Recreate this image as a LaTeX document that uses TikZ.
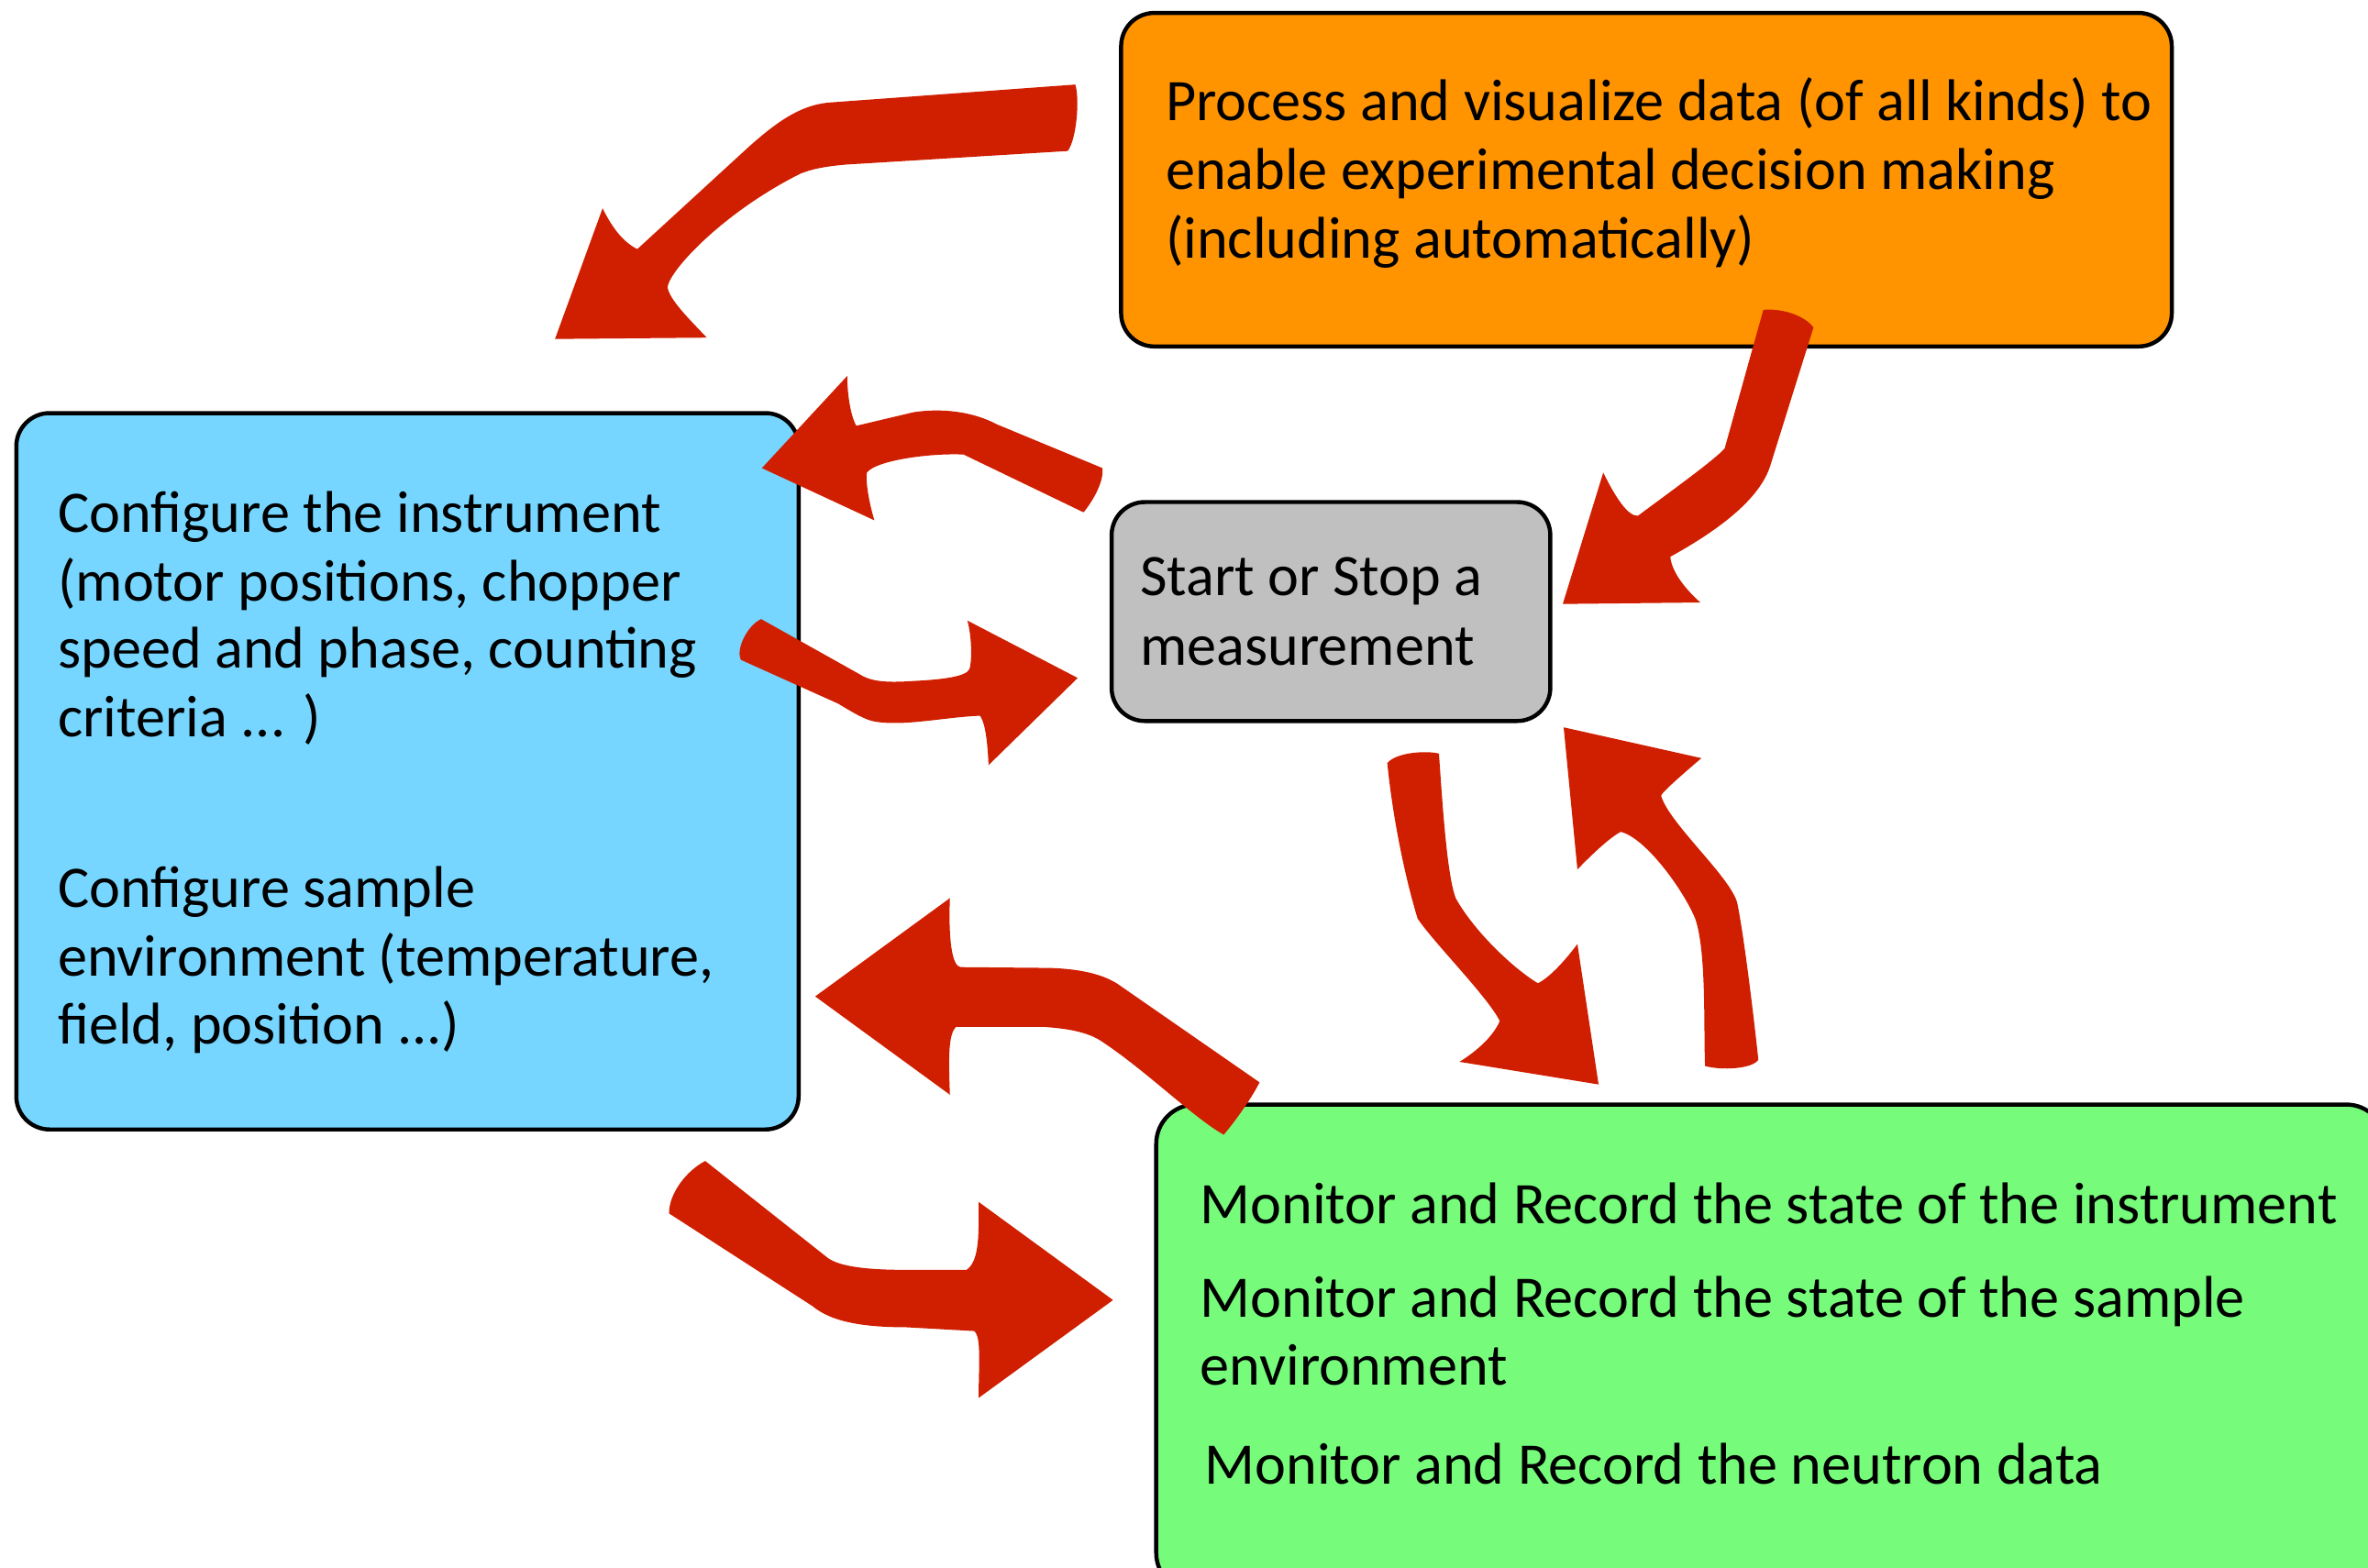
\documentclass[tikz,border=0pt]{standalone}
\usepackage{fontspec}
\setmainfont{Carlito}
\definecolor{procF}{RGB}{255,148,0}
\definecolor{confF}{RGB}{118,214,255}
\definecolor{startF}{RGB}{192,192,192}
\definecolor{monF}{RGB}{118,251,123}
\definecolor{arrowred}{RGB}{208,31,0}
\tikzset{
  box/.style={draw=black, line width=2.7pt, rounded corners=22pt, inner sep=0pt},
  bigarrow/.style={fill=arrowred, draw=none},
  txt/.style={anchor=base west, inner sep=0pt, font=\fontsize{39}{45}\selectfont}
}
\begin{document}
\begin{tikzpicture}[x=1pt,y=-1pt]
\useasboundingbox (0,0) rectangle (1568,1038);
\clip (0,0) rectangle (1568,1038);
\fill[white] (0,0) rectangle (1568,1038);
% boxes
\node[box, fill=procF, minimum width=695.7pt, minimum height=220.9pt] (proc) at (1090.2,119) {};
\node[box, fill=confF, minimum width=518pt, minimum height=474.4pt] (conf) at (269.8,510.8) {};
\node[box, fill=startF, minimum width=290.5pt, minimum height=145pt] (start) at (881.3,405) {};
\node[box, fill=monF, minimum width=814pt, minimum height=323pt, rounded corners=26pt] (mon) at (1172.6,893) {};
% texts
\node[txt] (p1) at (771.7,80) {Process and visualize data (of all kinds) to};
\node[txt] (p2) at (771.7,125.5) {enable experimental decision making};
\node[txt] (p3) at (771.7,171) {(including automatically)};
\node[txt] (c1) at (38.2,352.4) {Configure the instrument};
\node[txt] (c2) at (38.2,397.8) {(motor positions, chopper};
\node[txt] (c3) at (38.2,442.7) {speed and phase, counting};
\node[txt] (c4) at (38.2,488) {criteria ... )};
\node[txt] (c5) at (38.2,601.2) {Configure sample};
\node[txt] (c6) at (38.2,646.2) {environment (temperature,};
\node[txt] (c7) at (38.2,691.5) {field, position ...)};
\node[txt] (s1) at (754.8,394.7) {Start or Stop a};
\node[txt] (s2) at (754.8,440.3) {measurement};
\node[txt] (m1) at (794.5,810.7) {Monitor and Record the state of the instrument};
\node[txt] (m2) at (794.5,872.4) {Monitor and Record the state of the sample};
\node[txt] (m3) at (794.5,917) {environment};
\node[txt] (m4) at (797.5,982.8) {Monitor and Record the neutron data};
% arrow 1: process -> configure
\fill[bigarrow] (712,56) -- (548,68) .. controls (530,70) and (515,80) .. (495,98) -- (422,165)
  .. controls (412,160) and (405,150) .. (399,138) -- (367.5,224.5) -- (468,223.6)
  .. controls (455,210) and (443,198) .. (442,190)
  .. controls (444,178) and (480,140) .. (530,115) .. controls (540,111) and (550,110) .. (560,109)
  -- (707,100) .. controls (713,92) and (715,65) .. (712,56) -- cycle;
% arrow 2: start -> configure (top)
\fill[bigarrow] (730,310) -- (660,281) .. controls (645,273) and (625,270) .. (605,273) -- (567,282)
  .. controls (563,275) and (561,260) .. (561,249) -- (504.5,310) -- (579,344.6)
  .. controls (576,335) and (573,320) .. (574,313)
  .. controls (580,305) and (615,300) .. (638,301) -- (717.5,339.3)
  .. controls (725,330) and (731,318) .. (730,310) -- cycle;
% arrow 3: configure -> start
\fill[bigarrow] (504,410) -- (570,447) .. controls (578,452) and (590,452) .. (605,451)
  .. controls (625,450) and (640,448) .. (642,443)
  .. controls (644,435) and (643,420) .. (640.6,411) -- (713.6,449) -- (654.6,506.7)
  .. controls (654,495) and (653,480) .. (649,474)
  .. controls (625,475) and (600,481) .. (580,478) .. controls (573,477) and (565,472) .. (555,466)
  -- (490.6,437) .. controls (487,430) and (495,414) .. (504,410) -- cycle;
% arrow 4: process -> start
\fill[bigarrow] (1167.6,205.2) .. controls (1180,204) and (1195,209) .. (1200.8,216.9)
  -- (1172,309) .. controls (1165,330) and (1140,350) .. (1106,368.7)
  .. controls (1107,380) and (1118,392) .. (1125.9,399) -- (1034.8,400) -- (1061.6,313)
  .. controls (1070,330) and (1078,342) .. (1084.6,341.6)
  .. controls (1100,330) and (1135,305) .. (1142,297) -- (1167.6,205.2) -- cycle;
% arrow 5: start -> monitor
\fill[bigarrow] (918.6,505.3) .. controls (925,498) and (945,497) .. (952.8,499.1)
  .. controls (955,530) and (958,580) .. (964,595) .. controls (975,615) and (1000,640) .. (1018.3,651.2)
  .. controls (1025,648) and (1035,638) .. (1044.5,625.2) -- (1058.5,718.2) -- (966.4,703.2)
  .. controls (975,698) and (988,688) .. (993.1,676.2)
  .. controls (985,660) and (950,625) .. (938.7,608.4) .. controls (930,580) and (922,540) .. (918.6,505.3) -- cycle;
% arrow 6: monitor -> start
\fill[bigarrow] (1164.3,701.9) .. controls (1160,708) and (1140,709) .. (1129,706)
  .. controls (1128,680) and (1130,630) .. (1122.5,608.4) .. controls (1115,590) and (1090,555) .. (1073.2,550.9)
  .. controls (1065,555) and (1050,570) .. (1044.5,575.8) -- (1035.4,481.7) -- (1126.6,502.1)
  .. controls (1115,512) and (1100,525) .. (1099.9,527)
  .. controls (1105,545) and (1145,580) .. (1150.2,597.5) .. controls (1155,620) and (1162,680) .. (1164.3,701.9) -- cycle;
% arrow 7: monitor -> configure
\fill[bigarrow] (834,716.8) -- (742,653) .. controls (730,644) and (710,641) .. (690,641) -- (636,640.5)
  .. controls (630,640) and (628,620) .. (629,594.8) -- (539.8,659.9) -- (629,725)
  .. controls (628,700) and (628,685) .. (633,680) -- (690,680)
  .. controls (705,681) and (720,683) .. (730,690) .. controls (760,710) and (790,740) .. (810.3,751.5)
  .. controls (820,740) and (830,725) .. (834,716.8) -- cycle;
% arrow 8: configure -> monitor
\fill[bigarrow] (467,768.9) -- (548,833) .. controls (556,839) and (575,841) .. (600,841) -- (640,841)
  .. controls (649,835) and (648,815) .. (648,796) -- (737,861) -- (648,925.8)
  .. controls (648,905) and (650,885) .. (645,881.5) -- (600,879)
  .. controls (570,879) and (550,875) .. (538,865) -- (443,803.6)
  .. controls (443,790) and (455,775) .. (467,768.9) -- cycle;
\end{tikzpicture}
\end{document}
